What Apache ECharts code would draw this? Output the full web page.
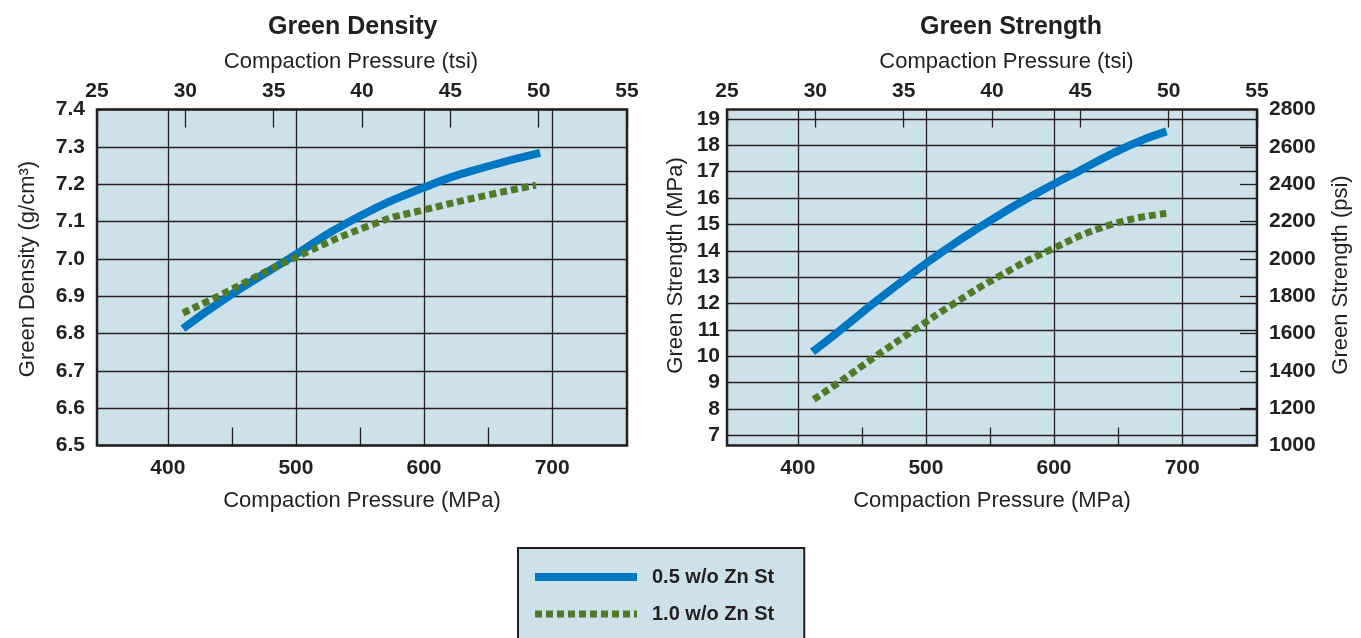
<!DOCTYPE html>
<html>
<head>
<meta charset="utf-8">
<title>Green Density and Green Strength vs Compaction Pressure</title>
<script src="https://cdn.jsdelivr.net/npm/echarts@6/dist/echarts.min.js"></script>
<style>
  html, body { margin: 0; padding: 0; background: #ffffff; }
  #chart { width: 1361px; height: 638px; }
</style>
</head>
<body>
<div id="chart"></div>
<script>
// ---- data -------------------------------------------------------------
const seriesNames = ['0.5 w/o Zn St', '1.0 w/o Zn St'];

// Green density (g/cm3) vs compaction pressure (MPa)
const densityPressure05 = [411.8, 447.7, 494.5, 542, 606.3, 650, 690.6];
const density05 = [6.813, 6.900, 7.000, 7.100, 7.200, 7.248, 7.284];
const densityPressure10 = [411.8, 439.4, 497.2, 566, 600, 650, 687.3];
const density10 = [6.855, 6.900, 7.000, 7.100, 7.131, 7.171, 7.197];

// Green strength (MPa) vs compaction pressure (MPa)
const strengthPressure05 = [411.5, 433.5, 459, 485.7, 514, 545.5, 579.7, 618.5, 659, 687.8];
const strength05 = [10.16, 11, 12, 13, 14, 15, 16, 17, 18, 18.53];
const strengthPressure10 = [412.4, 432, 461, 491, 522, 556, 595.5, 645, 687.6];
const strength10 = [8.36, 9, 10, 11, 12, 13, 14, 15, 15.41];

// tick labels
const mpaTicks = [400, 500, 600, 700];
const mpaMinorTicks = [450, 550, 650];
const tsiRange = [25, 55];                // step 5
const densityRange = [6.5, 7.4];          // step 0.1
const strengthMpaTicks = [7, 8, 9, 10, 11, 12, 13, 14, 15, 16, 17, 18, 19];
const strengthPsiRange = [1000, 2800];    // step 200

// ---- styling ----------------------------------------------------------
const INK = '#231f20';
const PLOT_BG = '#cde1eb';
const BLUE = '#0077c2';
const GREEN = '#4f7a26';
const FONT = "'Liberation Sans', Arial, Helvetica, sans-serif";
const TSI_TO_MPA = 13.7895;
const mpaMin = tsiRange[0] * TSI_TO_MPA;
const mpaMax = tsiRange[1] * TSI_TO_MPA;

const tickFont = { color: INK, fontFamily: FONT, fontWeight: 'bold', fontSize: 21 };
const nameFont = { color: INK, fontFamily: FONT, fontSize: 22 };
const gridLine = { color: INK, width: 1.3 };

function pairs(xs, ys) { return xs.map((x, i) => [x, ys[i]]); }

function plotGrid(left) {
  return {
    left: left, top: 109.5, width: 530, height: 336,
    show: true, backgroundColor: PLOT_BG, borderColor: INK, borderWidth: 2.5,
    containLabel: false, outerBoundsMode: 'none'
  };
}

// three x axes per grid: MPa labels + grid lines, MPa half-step ticks, tsi on top
function xAxesFor(gridIndex, topNamePad) {
  return [
    {
      type: 'value', gridIndex, position: 'bottom', min: mpaMin, max: mpaMax,
      name: 'Compaction Pressure (MPa)', nameLocation: 'middle', nameGap: 44,
      nameTextStyle: nameFont,
      axisLine: { show: false },
      axisTick: { show: false, customValues: mpaTicks },
      axisLabel: Object.assign({ customValues: mpaTicks, margin: 12 }, tickFont),
      splitLine: { show: true, lineStyle: gridLine }
    },
    {
      type: 'value', gridIndex, position: 'bottom', min: mpaMin, max: mpaMax,
      axisLine: { show: false },
      axisTick: { show: true, inside: true, length: 18, customValues: mpaMinorTicks, lineStyle: gridLine },
      axisLabel: { show: false },
      splitLine: { show: false }
    },
    {
      type: 'value', gridIndex, position: 'top', min: tsiRange[0], max: tsiRange[1], interval: 5,
      name: 'Compaction Pressure (tsi)', nameLocation: 'middle', nameGap: 37,
      nameTextStyle: Object.assign({ padding: topNamePad }, nameFont),
      axisLine: { show: false },
      axisTick: { show: true, inside: true, length: 18, lineStyle: gridLine },
      axisLabel: Object.assign({ margin: 8 }, tickFont),
      splitLine: { show: false }
    }
  ];
}

function lineSeries(name, color, width, dash, xIdx, yIdx, xs, ys) {
  return {
    name, type: 'line', xAxisIndex: xIdx, yAxisIndex: yIdx,
    data: pairs(xs, ys), smooth: 0.5, symbol: 'none',
    lineStyle: { color, width, type: dash || 'solid', cap: 'butt' },
    itemStyle: { color }, z: dash ? 5 : 4
  };
}

const option = {
  animation: false,
  backgroundColor: '#ffffff',
  title: [
    { text: 'Green Density', left: 263, top: 10,
      textStyle: { color: INK, fontFamily: FONT, fontWeight: 'bold', fontSize: 25 } },
    { text: 'Green Strength', left: 915, top: 10,
      textStyle: { color: INK, fontFamily: FONT, fontWeight: 'bold', fontSize: 25 } }
  ],
  legend: {
    orient: 'vertical', left: 518, top: 548, height: 160,
    data: seriesNames,
    itemWidth: 102, itemHeight: 20, itemGap: 17,
    padding: [19, 30, 30, 13],
    backgroundColor: PLOT_BG, borderColor: INK, borderWidth: 2,
    lineStyle: { width: 'inherit' },
    itemStyle: { opacity: 0, color: 'rgba(0,0,0,0)', borderWidth: 0 },
    textStyle: { color: INK, fontFamily: FONT, fontWeight: 'bold', fontSize: 20, padding: [0, 0, 0, 10] }
  },
  grid: [plotGrid(97), plotGrid(727)],
  xAxis: [].concat(xAxesFor(0, [0, 22, 0, 0]), xAxesFor(1, [0, 0, 0, 29])),
  yAxis: [
    {
      type: 'value', gridIndex: 0, position: 'left',
      min: densityRange[0], max: densityRange[1], interval: 0.1,
      name: 'Green Density (g/cm³)', nameLocation: 'middle', nameGap: 58, nameRotate: 90,
      nameTextStyle: Object.assign({ padding: [0, 0, 0, 17] }, nameFont),
      axisLine: { show: false }, axisTick: { show: false },
      axisLabel: Object.assign({ margin: 12, formatter: v => v.toFixed(1) }, tickFont),
      splitLine: { show: true, lineStyle: gridLine }
    },
    {
      type: 'value', gridIndex: 1, position: 'left', min: 6.61, max: 19.36,
      name: 'Green Strength (MPa)', nameLocation: 'middle', nameGap: 40, nameRotate: 90,
      nameTextStyle: Object.assign({ padding: [0, 0, 0, 24] }, nameFont),
      axisLine: { show: false },
      axisTick: { show: false, customValues: strengthMpaTicks },
      axisLabel: Object.assign({ margin: 7, customValues: strengthMpaTicks }, tickFont),
      splitLine: { show: true, lineStyle: gridLine }
    },
    {
      type: 'value', gridIndex: 1, position: 'right',
      min: strengthPsiRange[0], max: strengthPsiRange[1], interval: 200,
      name: 'Green Strength (psi)', nameLocation: 'middle', nameGap: 73, nameRotate: 90,
      nameTextStyle: Object.assign({ padding: [0, 0, 0, 5] }, nameFont),
      axisLine: { show: false },
      axisTick: { show: true, inside: true, length: 17, lineStyle: gridLine },
      axisLabel: Object.assign({ margin: 12, formatter: v => String(v) }, tickFont),
      splitLine: { show: false }
    }
  ],
  series: [
    lineSeries(seriesNames[0], BLUE, 8, null, 0, 0, densityPressure05, density05),
    lineSeries(seriesNames[1], GREEN, 7, [7, 4], 0, 0, densityPressure10, density10),
    lineSeries(seriesNames[0], BLUE, 8, null, 3, 1, strengthPressure05, strength05),
    lineSeries(seriesNames[1], GREEN, 7, [7, 4], 3, 1, strengthPressure10, strength10)
  ]
};

const chart = echarts.init(document.getElementById('chart'), null, { renderer: 'canvas' });
chart.setOption(option);
</script>
</body>
</html>
